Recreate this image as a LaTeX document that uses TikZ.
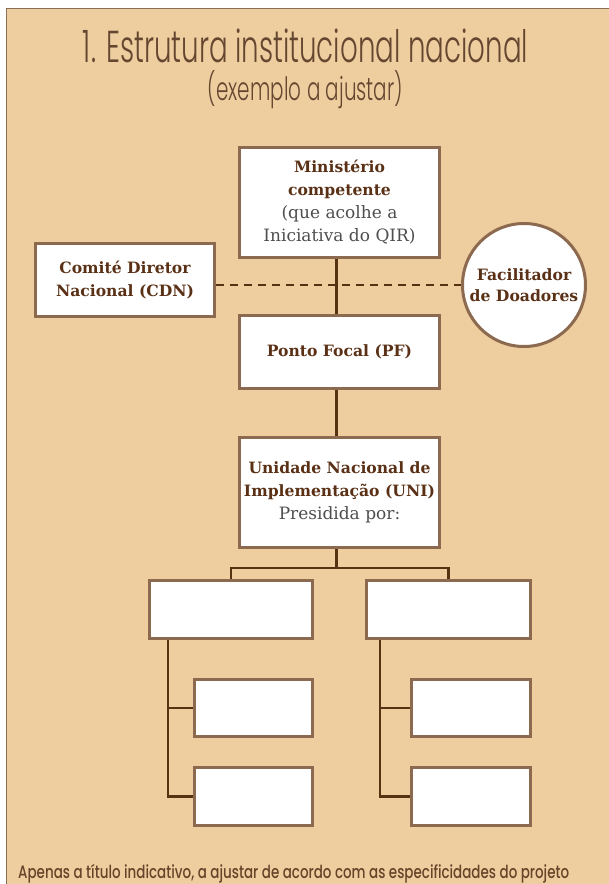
\documentclass[tikz,border=0pt]{standalone}
\usepackage{fontspec}
\usepackage{graphicx}
\setmainfont{DejaVu Serif}
\newfontfamily\titlefont{Poppins Light}[FakeStretch=0.62]
\newfontfamily\footfont{Poppins Medium}[FakeStretch=0.75]
\definecolor{bgc}{HTML}{EECE9F}
\definecolor{panelc}{HTML}{8B6E55}
\definecolor{boxc}{HTML}{8C6A4F}
\definecolor{linec}{HTML}{573212}
\definecolor{boldc}{HTML}{5A3116}
\definecolor{greyc}{HTML}{4E4E4E}
\definecolor{titlec}{HTML}{654630}
\definecolor{footc}{HTML}{684329}
\tikzset{
  orgbox/.style={draw=boxc, line width=3pt, fill=white, inner sep=0pt, align=center,
    font=\fontsize{15.6}{23}\selectfont},
  orgcirc/.style={circle, draw=boxc, line width=3pt, fill=white, inner sep=0pt, align=center,
    font=\fontsize{15.6}{21.5}\selectfont, minimum size=123pt},
  conn/.style={draw=linec, line width=2.8pt},
  dashconn/.style={draw=linec, line width=2.8pt, dash pattern=on 8pt off 6pt},
}
\newcommand{\bl}[1]{{\bfseries\color{boldc}#1}}
\newcommand{\gl}[1]{{\fontsize{17}{23}\selectfont\color{greyc}#1}}
\begin{document}
\begin{tikzpicture}[x=1pt,y=-1pt]
\useasboundingbox (0,0) rectangle (609,884);
\fill[white] (0,0) rectangle (609,884);
\fill[bgc] (6.5,8.5) rectangle (609,884);
\draw[panelc, line width=1.5pt] (609,8.5) -- (6.5,8.5) -- (6.5,884);

% titles
\node[anchor=base, inner sep=0pt, text=titlec] (title) at (305.5,62)
  {\resizebox{445pt}{!}{\titlefont 1. Estrutura institucional nacional}};
\node[anchor=base, inner sep=0pt, text=titlec] (subtitle) at (305.5,100)
  {\resizebox{195pt}{!}{\titlefont (exemplo a ajustar)}};

% boxes
\node[orgbox, minimum width=200pt, minimum height=110pt] (min) at (339.5,202.5)
  {\bl{Ministério}\\\bl{competente}\\\gl{(que acolhe a}\\\gl{Iniciativa do QIR)}};
\node[orgbox, minimum width=179pt, minimum height=73pt] (cdn) at (125,280)
  {\bl{Comité Diretor}\\\bl{Nacional (CDN)}};
\node[orgcirc] (fac) at (524,285)
  {\bl{Facilitador}\\\bl{de Doadores}};
\node[orgbox, minimum width=200pt, minimum height=73pt] (pf) at (339.5,352)
  {\bl{Ponto Focal (PF)}};
\node[orgbox, minimum width=200pt, minimum height=110pt] (uni) at (339.5,492.5)
  {\bl{Unidade Nacional de}\\\bl{Implementação (UNI)}\\\gl{Presidida por:}};

\node[orgbox, minimum width=163pt, minimum height=58pt] (c1) at (231,609.5) {};
\node[orgbox, minimum width=164pt, minimum height=58pt] (c2) at (448.5,609.5) {};
\node[orgbox, minimum width=118pt, minimum height=57pt] (s1) at (253.5,708) {};
\node[orgbox, minimum width=118pt, minimum height=58pt] (s2) at (253.5,796.5) {};
\node[orgbox, minimum width=119pt, minimum height=57pt] (s3) at (471,708) {};
\node[orgbox, minimum width=119pt, minimum height=58pt] (s4) at (471,796.5) {};

% connectors
\draw[dashconn] (fac.west -| cdn.east) -- (fac.west);
\draw[conn] ([xshift=-3pt]min.south) -- ([xshift=-3pt]pf.north);
\draw[conn] ([xshift=-3pt]pf.south) -- ([xshift=-3pt]uni.north);
\draw[conn] ([xshift=-3pt]uni.south) -- ++(0,19) coordinate (bus);
\draw[conn] (c1.north) |- (bus) -| (c2.north);
\draw[conn] ([xshift=20pt]c1.south west) |- (s1.west);
\draw[conn] ([xshift=20pt]c1.south west) |- (s2.west);
\draw[conn] ([xshift=15pt]c2.south west) |- (s3.west);
\draw[conn] ([xshift=15pt]c2.south west) |- (s4.west);

% footer
\node[anchor=base west, inner sep=0pt, text=footc] (foot) at (18,878)
  {\resizebox{551pt}{!}{\footfont Apenas a título indicativo, a ajustar de acordo com as especificidades do projeto}};
\end{tikzpicture}
\end{document}
